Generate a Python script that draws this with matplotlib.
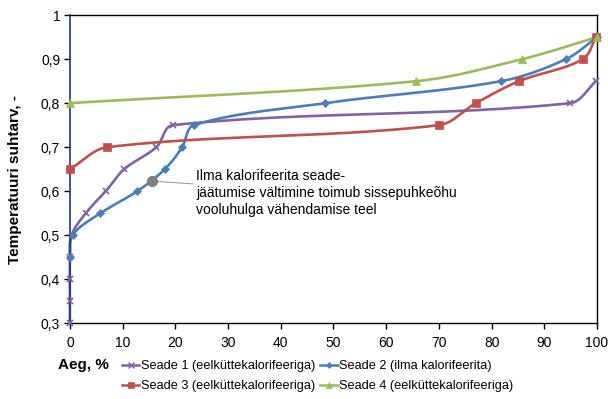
import numpy as np
import matplotlib.pyplot as plt

# Seade 1 (eelküttekalorifeeriga)
s1_x = [0, 0, 0, 0, 0.3, 3, 6.8, 10.3, 16.4, 19.5, 94.9, 99.8]
s1_y = [0.30, 0.35, 0.40, 0.45, 0.50, 0.55, 0.60, 0.65, 0.70, 0.75, 0.80, 0.85]
# Seade 2 (ilma kalorifeerita)
s2_x = [0, 0.5, 5.8, 12.8, 18.0, 21.3, 23.5, 48.4, 81.8, 94.1, 100]
s2_y = [0.45, 0.50, 0.55, 0.60, 0.65, 0.70, 0.75, 0.80, 0.85, 0.90, 0.95]
# Seade 3 (eelküttekalorifeeriga)
s3_x = [0, 7.1, 70.0, 77.0, 85.2, 97.3, 99.8]
s3_y = [0.65, 0.70, 0.75, 0.80, 0.85, 0.90, 0.95]
# Seade 4 (eelküttekalorifeeriga)
s4_x = [0, 65.7, 85.8, 100]
s4_y = [0.80, 0.85, 0.90, 0.95]

labels = [
    "Seade 1 (eelküttekalorifeeriga)",
    "Seade 2 (ilma kalorifeerita)",
    "Seade 3 (eelküttekalorifeeriga)",
    "Seade 4 (eelküttekalorifeeriga)",
]
colors = ["#8064A2", "#4A7EBB", "#C0504D", "#9BBB59"]
markers = ["x", "D", "s", "^"]
msizes = [5, 4, 6, 6]

note_x, note_y = 15.5, 0.623
note_text = "Ilma kalorifeerita seade-\njäätumise vältimine toimub sissepuhkeõhu\nvooluhulga vähendamise teel"

plt.rcParams["font.family"] = ["Liberation Sans", "DejaVu Sans"]

# rough pixel scale of the plot area, so the smoothing behaves like on screen
PX_X, PX_Y = 5.27, 440.0


def smooth(xs, ys, n=30):
    """Smoothed line through the points: Bezier segments, tangent length tied to segment length."""
    p = np.column_stack([np.array(xs) * PX_X, np.array(ys) * PX_Y]).astype(float)
    pts = []
    for i in range(len(p) - 1):
        p0 = p[max(i - 1, 0)]
        p1, p2 = p[i], p[i + 1]
        p3 = p[min(i + 2, len(p) - 1)]
        seg_len = np.linalg.norm(p2 - p1)
        d1 = p2 - p0
        d2 = p3 - p1
        d1 = d1 / (np.linalg.norm(d1) or 1)
        d2 = d2 / (np.linalg.norm(d2) or 1)
        c1 = p1 + d1 * seg_len / 3
        c2 = p2 - d2 * seg_len / 3
        t = np.linspace(0, 1, n)[:, None]
        seg = (1 - t) ** 3 * p1 + 3 * (1 - t) ** 2 * t * c1 + 3 * (1 - t) * t ** 2 * c2 + t ** 3 * p2
        pts.append(seg)
    pts = np.vstack(pts)
    return pts[:, 0] / PX_X, pts[:, 1] / PX_Y


fig = plt.figure(figsize=(6.08, 3.99), dpi=100)
ax = fig.add_axes([0.115, 0.19, 0.867, 0.772])

handles = []
for xs, ys, c, m, ms, lab in zip([s1_x, s2_x, s3_x, s4_x], [s1_y, s2_y, s3_y, s4_y],
                                 colors, markers, msizes, labels):
    sx, sy = smooth(xs, ys)
    ax.plot(sx, sy, color=c, lw=1.9, zorder=2, clip_on=False)
    ax.plot(xs, ys, ls="none", marker=m, color=c, ms=ms, mew=1.2 if m == "x" else 0.5,
            zorder=3, clip_on=False)
    h, = ax.plot([], [], color=c, lw=1.8, marker=m, ms=ms - 1, mew=1.0 if m == "x" else 0.5)
    handles.append(h)

ax.plot([note_x], [note_y], "o", color="#808080", ms=7, zorder=4)
ax.annotate(note_text, xy=(note_x, note_y), xytext=(23.9, 0.596),
            fontsize=10, va="center", ha="left", linespacing=1.3,
            arrowprops=dict(arrowstyle="-", color="#A0A0A0", lw=0.8, shrinkA=0, shrinkB=0))

ax.set_xlim(0, 100)
ax.set_ylim(0.3, 1.0)
ax.set_xticks(np.arange(0, 101, 10))
ax.set_yticks(np.arange(0.3, 1.01, 0.1))
ax.set_yticklabels([f"{v:.1f}".replace(".", ",") if v < 0.99 else "1" for v in np.arange(0.3, 1.01, 0.1)])
ax.tick_params(direction="out", length=4, width=1, labelsize=10, pad=3)
ax.tick_params(axis="x", pad=5)
for side in ["top", "right", "bottom"]:
    ax.spines[side].set_color("black")
    ax.spines[side].set_linewidth(1)
ax.spines["left"].set_color("#1F3A80")
ax.spines["left"].set_linewidth(1.2)

ax.set_ylabel("Temperatuuri suhtarv, -", fontsize=11, fontweight="bold")
ax.yaxis.set_label_coords(-0.091, 0.468)
fig.text(0.095, 0.085, "Aeg, %", fontsize=11, fontweight="bold", va="center", ha="left")

# Excel fills the legend row by row
order = [0, 2, 1, 3]
fig.legend([handles[i] for i in order], [labels[i] for i in order],
           loc="center left", bbox_to_anchor=(0.2, 0.0576), ncol=2,
           frameon=False, fontsize=9.2, handlelength=1.4, handletextpad=0.1,
           columnspacing=0.35, labelspacing=0.62, borderaxespad=0, borderpad=0)

fig.savefig("out.png", dpi=100)
